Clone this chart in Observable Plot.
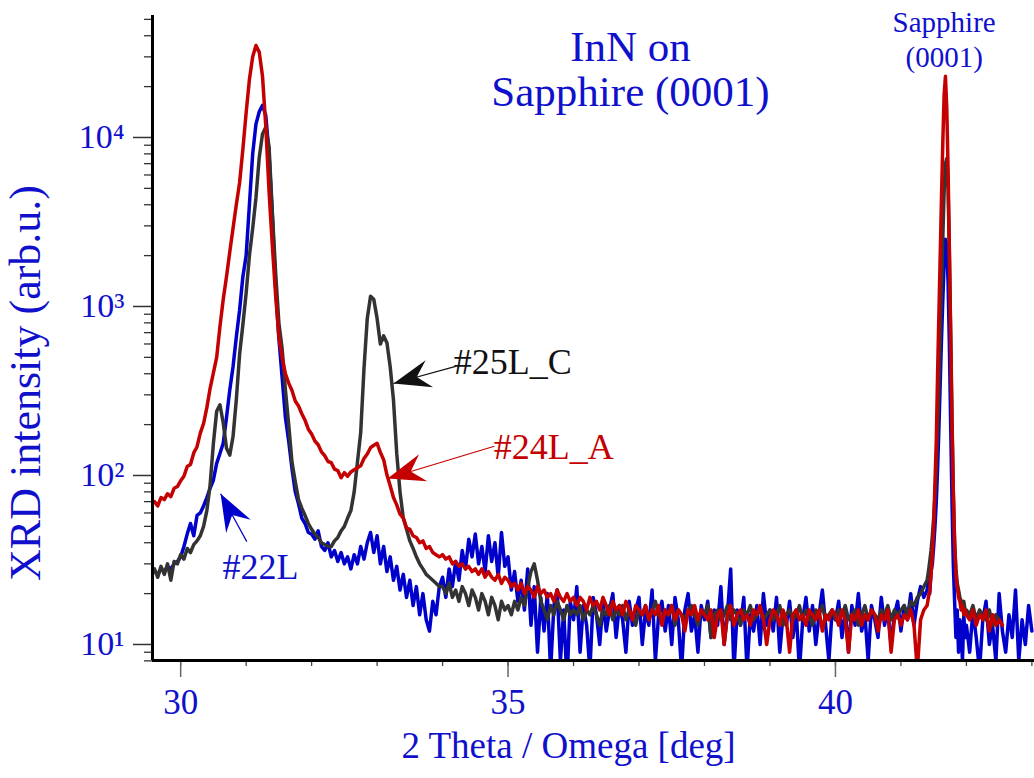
<!DOCTYPE html>
<html>
<head>
<meta charset="utf-8">
<script src="https://cdn.jsdelivr.net/npm/d3@7"></script>
<script src="https://cdn.jsdelivr.net/npm/@observablehq/plot@0.6"></script>
<style>
  html, body { margin: 0; padding: 0; background: #fff; }
  svg { display: block; }
</style>
</head>
<body>
<div id="chart"></div>
<script>
// ---------- axis / tick data ----------
const xDomain = [29.57, 43.04];
const yDomain = [8.04, 52700];
const xMajorTicks = [30, 35, 40];
const xMinorTicks = [30, 31, 32, 33, 34, 35, 36, 37, 38, 39, 40, 41, 42, 43];
const yDecadeTicks = [10, 100, 1000, 10000];
const yDecadeLabels = ["10\u00b9", "10\u00b2", "10\u00b3", "10\u2074"];
const yMinorTicks = [8, 9, 20, 30, 40, 50, 60, 70, 80, 90, 200, 300, 400, 500, 600, 700, 800, 900,
  2000, 3000, 4000, 5000, 6000, 7000, 8000, 9000, 20000, 30000, 40000, 50000];

// ---------- sampling grid of the scans (start, step) ----------
const mainStart = 29.6, mainStep = 0.05;   // 29.60 ... 41.35
const peakStart = 41.4, peakStep = 0.02;   // 41.40 ... 41.98
const tailStart = 42.0, tailStep = 0.05;   // 42.00 ... 43.00

// ---------- #24L_A (red) ----------
const red24Main = [
  70, 66, 74, 72, 78, 75, 84, 86,
  93, 99, 113, 116, 136, 148, 178, 203, 252, 328, 405, 500, 760, 1100, 1500, 2100, 2900, 4000, 5400, 8500,
  14000, 22000, 30000, 35000, 32000, 23000, 11700, 4800, 2300, 1170, 660, 500, 400, 352, 318, 276, 258, 232, 212, 188,
  176, 160, 152, 138, 131, 121, 119, 109, 107, 97, 104, 99, 105, 108, 111, 114, 126, 134, 146, 151,
  155, 137, 124, 101, 87, 74, 67, 59, 56, 49, 48, 44, 43, 40, 41, 37, 38, 35, 34, 33,
  34, 32, 33, 30, 31, 29, 30, 28, 29, 27, 28, 26, 28, 25, 27, 25, 24, 26, 23, 25,
  24, 22, 23, 21, 23, 20, 22, 21, 19, 22, 20, 21, 19, 20, 18, 21, 19, 18, 20, 18,
  19, 17, 19, 18, 16, 19, 17, 18, 16, 19, 17, 15, 18, 16, 17, 15, 18, 16, 14, 17,
  16, 15, 17, 14, 16, 15, 17, 13, 16, 15, 17, 14, 16, 15, 12, 16, 15, 17, 14, 16,
  15, 14, 16, 11, 15, 16, 10, 15, 17, 13, 15, 16, 14, 15, 13, 16, 15, 17, 14, 10,
  14, 16, 15, 13, 16, 14, 9, 15, 16, 14, 15, 13, 16, 15, 14, 16, 12, 15, 14, 16,
  15, 13, 16, 14, 9, 15, 14, 16, 13, 15, 14, 16, 15, 12, 15, 14, 16, 9, 14, 15,
  13, 15, 14, 16, 13, 7, 14, 16
];
const red24Peak = [
  17, 19, 21, 26, 34, 50, 90, 160, 400, 900,
  2000, 4500, 9500, 18000, 23000, 15000, 6500, 2200, 650, 200,
  80, 40, 26, 22, 19, 18, 16, 17, 15, 16
];
const red24Tail = [15, 14, 16, 13, 15, 14, 16, 12, 15, 13, 14, 13,
  null, null, null, null, null, null, null, null, null];

// ---------- #25L_C (black) ----------
const black25Main = [
  28, 25, 29, 26, 30, 24, 31, 30,
  34, 32, 37, 35, 39, 41, 44, 50, 62, 88, 155, 240, 262, 205, 145, 132, 170, 280, 520, 780,
  1200, 2000, 2900, 4400, 7600, 10500, 11500, 8800, 3600, 1600, 800, 560, 320, 200, 120, 92, 72, 64, 58, 52,
  48, 45, 43, 40, 39, 38, 38, 41, 43, 47, 50, 56, 62, 80, 120, 180, 430, 850, 1150, 1100,
  850, 600, 670, 610, 440, 280, 135, 80, 56, 48, 41, 37, 33, 30, 28, 26, 25, 24, 23, 22,
  22, 20, 23, 19, 21, 18, 22, 20, 17, 21, 19, 16, 20, 18, 15, 19, 17, 14, 18, 16,
  17, 15, 18, 16, 19, 17, 22, 27, 30, 24, 18, 16, 14, 17, 15, 18, 16, 14, 17, 15,
  16, 15, 17, 14, 16, 15, 17, 15, 13, 16, 15, 17, 14, 16, 15, 17, 14, 16, 15, 13,
  16, 15, 17, 14, 16, 18, 15, 14, 16, 15, 17, 13, 16, 15, 14, 16, 17, 15, 13, 16,
  15, 17, 11, 15, 16, 14, 15, 17, 14, 16, 15, 13, 16, 15, 17, 14, 15, 16, 14, 15,
  16, 14, 15, 17, 13, 15, 16, 14, 15, 17, 14, 16, 15, 13, 16, 15, 17, 14, 15, 16,
  14, 16, 15, 17, 14, 15, 16, 13, 15, 17, 14, 16, 15, 14, 16, 15, 17, 14, 16, 15,
  16, 17, 15, 18, 17, 19, 20, 22
];
const black25Peak = [
  24, 27, 31, 36, 44, 56, 75, 110, 180, 330,
  650, 1300, 2600, 4800, 7000, 7500, 5000, 2000, 700, 220,
  80, 40, 28, 23, 21, 19, 18, 17, 18, 16
];
const black25Tail = [16, 15, 17, 14, 16, 15, 14, 16, 13, 15, 14,
  null, null, null, null, null, null, null, null, null, null];

// ---------- #22L (blue) ----------
const blue22Main = [
  27, 26, 28, 27, 29, 28, 30, 31,
  33, 38, 45, 52, 44, 58, 60, 66, 74, 84, 94, 118, 135, 155, 220, 320, 440, 660, 950, 1500,
  2000, 4000, 8000, 12000, 14200, 15500, 13500, 8000, 3500, 1300, 650, 380, 220, 160, 110, 80, 68, 56, 52, 46,
  45, 42, 47, 38, 36, 40, 33, 36, 31, 35, 30, 33, 28, 34, 30, 38, 32, 40, 46, 35,
  44, 30, 38, 27, 33, 24, 29, 21, 26, 19, 24, 17, 22, 15, 20, 14, 12, 18, 15, 22,
  25, 19, 28, 22, 31, 24, 36, 28, 42, 33, 45, 30, 38, 27, 44, 31, 40, 25, 46, 29,
  33, 21, 27, 18, 24, 16, 28, 13, 22, 9, 19, 12, 20, 7, 17, 21, 8, 16, 6, 18,
  14, 22, 9, 17, 13, 7, 19, 15, 10, 18, 12, 16, 20, 11, 17, 14, 9, 18, 13, 16,
  19, 10, 16, 13, 21, 8, 15, 18, 12, 17, 10, 19, 14, 7, 16, 20, 12, 15, 9, 17,
  14, 18, 11, 16, 13, 22, 10, 15, 28, 7, 16, 13, 19, 7, 15, 12, 17, 10, 20, 13,
  16, 12, 19, 9, 15, 13, 18, 11, 16, 7, 14, 19, 12, 17, 10, 15, 21, 13, 8, 16,
  14, 18, 11, 16, 9, 17, 13, 20, 12, 15, 8, 17, 14, 11, 19, 13, 16, 10, 15, 18,
  12, 17, 14, 20, 13, 18, 22, 19
];
const blue22Peak = [
  21, 24, 20, 27, 30, 38, 50, 70, 110, 190,
  350, 650, 1100, 1800, 2500, 2300, 1400, 600, 200, 70,
  30, 18, 11, 16, 9, 14, 12, 8, 15, 11
];
const blue22Tail = [13, 9, 16, 11, 7, 14, 18, 10, 13, 8, 20, 12, 9, 15, 11, 21, 8, 14, 10, 17, 12];

// ---------- text ----------
const titleLines = ["InN on", "Sapphire (0001)"];
const substrateLines = ["Sapphire", "(0001)"];
const xLabel = "2 Theta / Omega [deg]";
const yLabel = "XRD intensity (arb.u.)";

// ---------- colours ----------
const blueLine = "#0000cc";
const redLine = "#c40000";
const blackLine = "#333333";
const textBlue = "#1010cc";

// ---------- annotations (data units) ----------
const arrows = [
  {name: "#25L_C", color: "#111111", x1: 34.20, y1: 442, x2: 33.25, y2: 350},
  {name: "#24L_A", color: redLine, x1: 34.79, y1: 149, x2: 33.16, y2: 96},
  {name: "#22L", color: blueLine, x1: 31.01, y1: 40.6, x2: 30.61, y2: 78}
];
const arrowLabels = [
  {text: "#25L_C", x: 34.17, y: 467, color: "#111111", anchor: "start"},
  {text: "#24L_A", x: 34.78, y: 147, color: redLine, anchor: "start"},
  {text: "#22L", x: 31.22, y: 28.6, color: textBlue, anchor: "middle"}
];

function build(name, main, peak, tail) {
  const pts = [];
  const add = (arr, start, step) => arr.forEach((v, i) => {
    if (v != null) pts.push({series: name, x: +(start + i * step).toFixed(3), y: v});
  });
  add(main, mainStart, mainStep);
  add(peak, peakStart, peakStep);
  add(tail, tailStart, tailStep);
  return pts;
}
const blueData = build("#22L", blue22Main, blue22Peak, blue22Tail);
const blackData = build("#25L_C", black25Main, black25Peak, black25Tail);
const redData = build("#24L_A", red24Main, red24Peak, red24Tail);

const W = 1034, H = 778;
const mL = 152, mR = 0, mT = 15, mB = 118;

// mirror scales to get on-screen arrow directions
const sx = d3.scaleLinear(xDomain, [mL, W - mR]);
const sy = d3.scaleLog(yDomain, [H - mB, mT]);
arrows.forEach(a => {
  const dx = sx(a.x2) - sx(a.x1), dy = sy(a.y2) - sy(a.y1);
  a.angle = Math.atan2(dx, -dy) * 180 / Math.PI;
});

// filled "stealth" arrow head, tip at origin pointing up
const stealth = {
  draw(ctx, size) {
    const r = Math.sqrt(size / Math.PI);
    const L = 3.1 * r, w = 1.17 * r;
    ctx.moveTo(0, 0);
    ctx.lineTo(w, L);
    ctx.lineTo(0, 0.65 * L);
    ctx.lineTo(-w, L);
    ctx.closePath();
  }
};

const font = "'Liberation Serif', 'Times New Roman', serif";
const lw = 3.5;

const chart = Plot.plot({
  width: W,
  height: H,
  marginLeft: mL,
  marginRight: mR,
  marginTop: mT,
  marginBottom: mB,
  style: {background: "#fff", fontFamily: font, overflow: "visible"},
  x: {domain: xDomain, label: null},
  y: {type: "log", domain: yDomain, label: null},
  marks: [
    Plot.line(blueData, {x: "x", y: "y", stroke: blueLine, strokeWidth: lw, clip: true, strokeLinejoin: "round"}),
    Plot.line(blackData, {x: "x", y: "y", stroke: blackLine, strokeWidth: lw, clip: true, strokeLinejoin: "round"}),
    Plot.line(redData, {x: "x", y: "y", stroke: redLine, strokeWidth: lw, clip: true, strokeLinejoin: "round"}),

    // axes
    Plot.axisY(yMinorTicks, {tickSize: 8, stroke: "#333", strokeWidth: 1.3, fill: "none", tickFormat: () => "", label: null}),
    Plot.axisY(yDecadeTicks, {tickSize: 19, tickPadding: 9, stroke: "#333", strokeWidth: 1.5, fill: textBlue,
      fontSize: 34, fontFamily: font, tickFormat: d => yDecadeLabels[yDecadeTicks.indexOf(d)], label: null}),
    Plot.axisX(xMinorTicks, {tickSize: 6, stroke: "#444", strokeWidth: 1.3, fill: "none", tickFormat: () => "", label: null}),
    Plot.axisX(xMajorTicks, {tickSize: 17, tickPadding: 12, stroke: "#666", strokeWidth: 1.5, fill: textBlue,
      fontSize: 35, fontFamily: font, tickFormat: d => String(d), label: null}),
    Plot.ruleX([xDomain[0]], {stroke: "#000", strokeWidth: 3}),
    Plot.ruleY([yDomain[0]], {stroke: "#000", strokeWidth: 3}),

    // axis titles
    Plot.text([xLabel], {frameAnchor: "bottom", dx: -25, dy: 97, text: d => d, fontSize: 37, fill: textBlue, fontFamily: font}),
    Plot.text([yLabel], {frameAnchor: "left", textAnchor: "middle", dx: -127, dy: 45, rotate: -90, text: d => d,
      fontSize: 44, fill: textBlue, fontFamily: font}),

    // title and substrate peak label
    Plot.text([{x: 36.87, y: 25500, t: titleLines.join("\n")}], {x: "x", y: "y", text: "t", fontSize: 43,
      lineHeight: 1.05, fill: textBlue, fontFamily: font}),
    Plot.text([{x: 41.66, y: 38800, t: substrateLines.join("\n")}], {x: "x", y: "y", text: "t", fontSize: 29,
      lineHeight: 1.2, fill: textBlue, fontFamily: font}),

    // arrows
    ...arrows.map(a => Plot.link([a], {x1: "x1", y1: "y1", x2: "x2", y2: "y2", stroke: a.color, strokeWidth: 1.2})),
    ...arrows.map(a => Plot.dot([a], {x: "x2", y: "y2", r: 12, symbol: stealth, fill: a.color, stroke: "none", rotate: a.angle})),
    ...arrowLabels.map(l => Plot.text([l], {x: "x", y: "y", text: "text", fill: l.color, fontSize: 36,
      textAnchor: l.anchor, fontFamily: font}))
  ]
});

document.getElementById("chart").appendChild(chart);
</script>
</body>
</html>
